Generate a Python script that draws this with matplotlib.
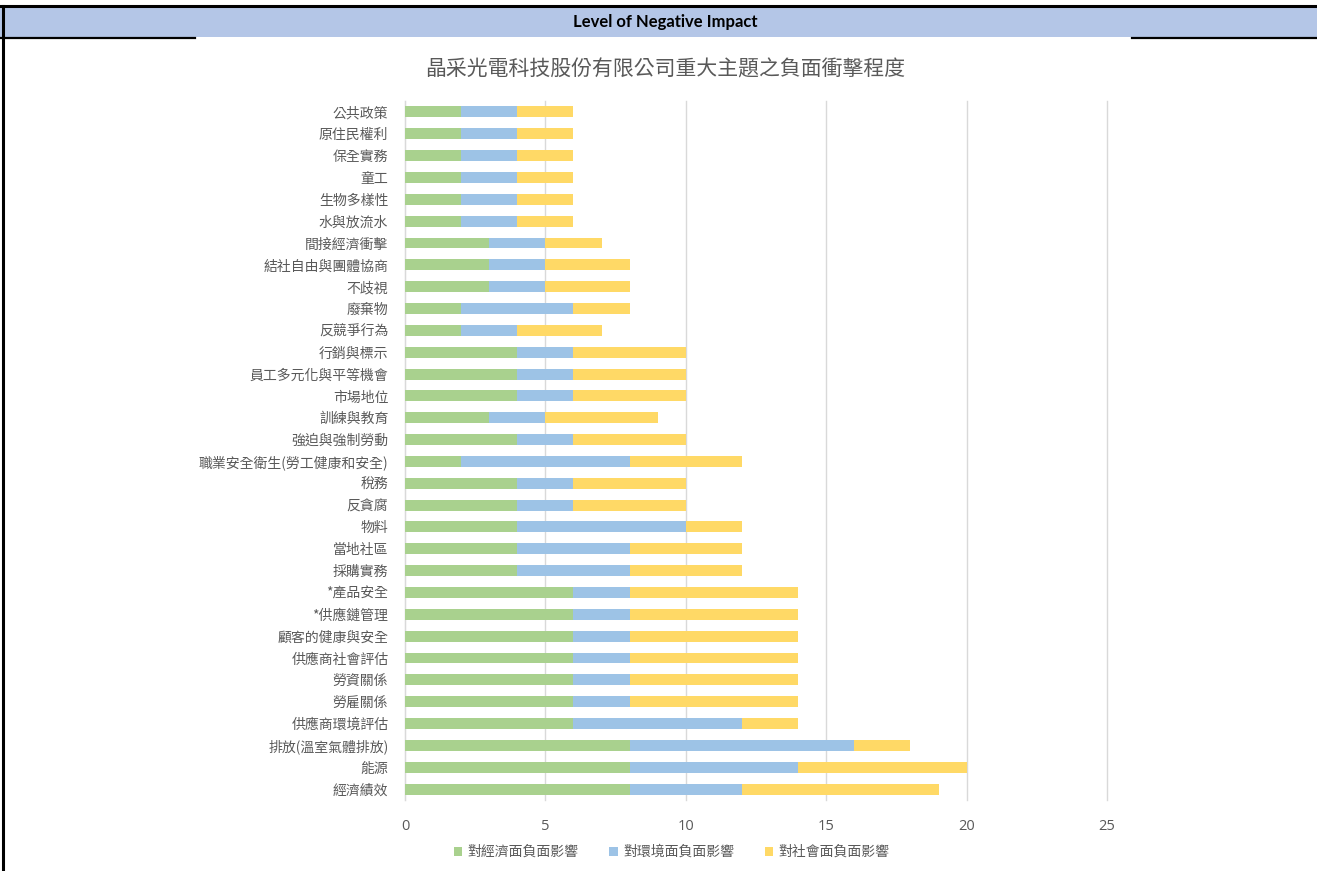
import numpy as np
import matplotlib
matplotlib.use('Agg')
import matplotlib.pyplot as plt
from matplotlib.lines import Line2D
from matplotlib.patches import Rectangle

plt.rcParams['font.family'] = ['Noto Sans CJK TC', 'DejaVu Sans']

# topics, top to bottom as shown in the chart
topics = ['公共政策', '原住民權利', '保全實務', '童工', '生物多樣性', '水與放流水',
          '間接經濟衝擊', '結社自由與團體協商', '不歧視', '廢棄物', '反競爭行為',
          '行銷與標示', '員工多元化與平等機會', '市場地位', '訓練與教育', '強迫與強制勞動',
          '職業安全衛生(勞工健康和安全)', '稅務', '反貪腐', '物料', '當地社區', '採購實務',
          '*產品安全', '*供應鏈管理', '顧客的健康與安全', '供應商社會評估', '勞資關係',
          '勞雇關係', '供應商環境評估', '排放(溫室氣體排放)', '能源', '經濟績效']
econ = [2, 2, 2, 2, 2, 2, 3, 3, 3, 2, 2, 4, 4, 4, 3, 4,
        2, 4, 4, 4, 4, 4, 6, 6, 6, 6, 6, 6, 6, 8, 8, 8]
env = [2, 2, 2, 2, 2, 2, 2, 2, 2, 4, 2, 2, 2, 2, 2, 2,
       6, 2, 2, 6, 4, 4, 2, 2, 2, 2, 2, 2, 6, 8, 6, 4]
soc = [2, 2, 2, 2, 2, 2, 2, 3, 3, 2, 3, 4, 4, 4, 4, 4,
       4, 4, 4, 2, 4, 4, 6, 6, 6, 6, 6, 6, 2, 2, 6, 7]
series_names = ['對經濟面負面影響', '對環境面負面影響', '對社會面負面影響']
colors = ['#a9d18e', '#9dc3e6', '#ffd966']

W, H = 1317, 871
fig = plt.figure(figsize=(W / 100, H / 100), dpi=100)

# header band and border lines
fig.patches.append(Rectangle((0, 1 - 37 / H), 1, 31 / H, transform=fig.transFigure,
                             facecolor='#b4c6e7', edgecolor='none', zorder=0))
fig.add_artist(Line2D([0, 1], [1 - 6 / H, 1 - 6 / H], color='black', lw=2.2, transform=fig.transFigure))
fig.add_artist(Line2D([3 / W, 3 / W], [0, 1 - 6 / H], color='black', lw=2.2, transform=fig.transFigure))
fig.add_artist(Line2D([0, 195 / W], [1 - 38 / H, 1 - 38 / H], color='black', lw=1.6, transform=fig.transFigure))
fig.add_artist(Line2D([1132 / W, 1], [1 - 38 / H, 1 - 38 / H], color='black', lw=1.6, transform=fig.transFigure))
fig.text(0.505, 1 - 22 / H, 'Level of Negative Impact', ha='center', va='center',
         fontsize=12, fontweight='bold', family=['Lato', 'DejaVu Sans'], color='black')

fig.text(0.505, 1 - 69 / H, '晶采光電科技股份有限公司重大主題之負面衝擊程度', ha='center', va='center',
         fontsize=15, color='#595959')

ax = fig.add_axes([405 / W, 1 - 800 / H, 702 / W, 699 / H])
y = np.arange(len(topics))
left = np.zeros(len(topics))
for vals, name, c in zip([econ, env, soc], series_names, colors):
    ax.barh(y, vals, left=left, height=0.5, color=c, label=name, zorder=3)
    left = left + np.array(vals)

ax.set_xlim(0, 25)
ax.set_ylim(len(topics) - 0.5, -0.5)
ax.set_xticks(np.arange(0, 26, 5))
ax.set_yticks(y)
ax.set_yticklabels(topics)
ax.tick_params(axis='y', length=0, pad=12, labelsize=10, labelcolor='#595959')
ax.tick_params(axis='x', length=0, pad=14, labelsize=10.5, labelcolor='#595959')
for lab in ax.get_xticklabels():
    lab.set_family(['Open Sans', 'DejaVu Sans'])
ax.grid(axis='x', color='#d9d9d9', lw=1, zorder=0)
for gl in ax.get_xgridlines():
    gl.set_clip_on(False)
for s in ['top', 'right', 'bottom']:
    ax.spines[s].set_visible(False)
ax.spines['left'].set_color('#d9d9d9')

ax.legend(loc='center', bbox_to_anchor=(0.51, 1 - 852 / H), bbox_transform=fig.transFigure,
          ncol=3, frameon=False, fontsize=10, handlelength=0.6, handleheight=0.6,
          handletextpad=0.4, columnspacing=2.2, labelcolor='#595959')

fig.savefig('out.png', dpi=100)
